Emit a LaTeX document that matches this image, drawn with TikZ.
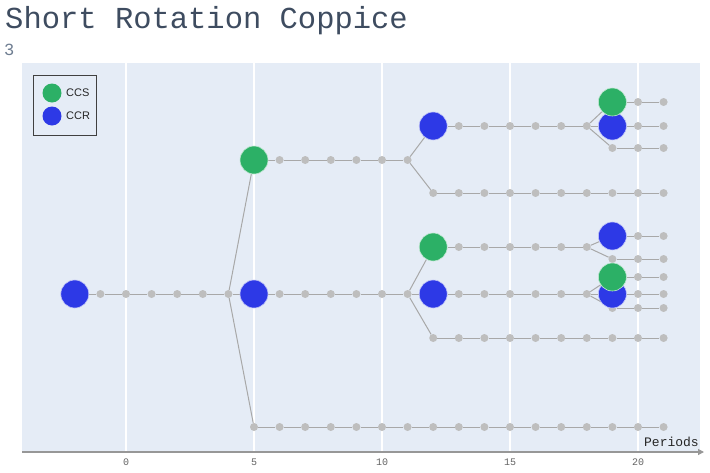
\documentclass[tikz,border=0pt]{standalone}
\usepackage{fontspec}
\setmainfont{Liberation Sans}
\setmonofont{Liberation Mono}
\usetikzlibrary{arrows.meta}
\definecolor{plotbg}{HTML}{E5ECF6}
\definecolor{ccsgreen}{RGB}{44,176,102}
\definecolor{ccrblue}{RGB}{45,57,230}
\definecolor{dotgrey}{RGB}{190,190,190}
\definecolor{linegrey}{RGB}{168,168,168}
\definecolor{titlecol}{RGB}{62,76,96}
\definecolor{subcol}{RGB}{110,125,145}
\definecolor{tickcol}{RGB}{100,100,100}
\pgfdeclarelayer{back}
\pgfdeclarelayer{edges}
\pgfdeclarelayer{top}
\pgfsetlayers{back,edges,main,top}
\tikzset{
  dotnode/.style={circle, fill=dotgrey, inner sep=0pt, minimum size=8pt},
  ccsnode/.style={circle, fill=ccsgreen, draw=white!70!ccsgreen, line width=0.6pt, inner sep=0pt, minimum size=28pt},
  ccrnode/.style={circle, fill=ccrblue, draw=white!70!ccrblue, line width=0.6pt, inner sep=0pt, minimum size=28pt},
  edge/.style={draw=linegrey, line width=1pt},
  grid/.style={draw=white, line width=1.1pt},
  ticklab/.style={font=\ttfamily\fontsize{10}{12}\selectfont, text=tickcol, inner sep=0pt},
  legmark/.style={circle, inner sep=0pt, minimum size=19pt},
  leglab/.style={font=\fontsize{11}{13}\selectfont, text=black!85, anchor=west, inner sep=0pt}
}
\newcommand\mkrow[6]{%
  \pgfmathtruncatemacro\rowlen{#4-#3}%
  \begin{pgfonlayer}{#6}\node[#5] (#10) at ({126+25.6*(#3)},#2) {};\end{pgfonlayer}%
  \foreach \k in {1,...,\rowlen}{\node[dotnode] (#1\k) at ({126+25.6*(#3+\k)},#2) {};}%
  \begin{pgfonlayer}{edges}%
  \foreach \k [remember=\k as \j (initially 0)] in {1,...,\rowlen}{\draw[edge] (#1\j) -- (#1\k);}%
  \end{pgfonlayer}%
}
\begin{document}
\begin{tikzpicture}[x=1pt,y=-1pt]
\useasboundingbox (0,0) rectangle (710,472);
% plot area
\begin{pgfonlayer}{back}
\fill[white] (0,0) rectangle (710,472);
\fill[plotbg] (22,63) rectangle (700,452);
\foreach \t in {0,5,10,15,20}{\draw[grid] ({126+25.6*\t},63) -- ({126+25.6*\t},452);}
\end{pgfonlayer}
\coordinate (axL) at (22,452);
\coordinate (axR) at (704,452);
\draw[draw=linegrey!90!black, line width=1.2pt, -{Triangle[length=6pt,width=6pt]}] (axL) -- (axR);
% title
\node[anchor=base west, inner sep=0pt, font=\ttfamily\fontsize{30.5}{34}\selectfont, text=titlecol] (title) at (5,28) {Short Rotation Coppice};
\node[anchor=base west, inner sep=0pt, font=\ttfamily\fontsize{17}{20}\selectfont, text=subcol] (subtitle) at (4,55) {3};
% tick labels
\foreach \t in {0,5,10,15,20}{\node[ticklab] (tick\t) at ({126+25.6*\t},462) {\t};}
\node[anchor=base east, inner sep=0pt, font=\ttfamily\fontsize{13}{15}\selectfont, text=black!85] (periods) at (699,446) {Periods};
% legend
\node[draw=black!75, line width=0.8pt, fill=plotbg, minimum width=63pt, minimum height=60pt, inner sep=0pt] (legend) at (64.5,105) {};
\node[legmark, fill=ccsgreen] (legccs) at (52,93) {};
\node[legmark, fill=ccrblue] (legccr) at (52,116) {};
\node[leglab] (legccstext) at (66,93) {CCS};
\node[leglab] (legccrtext) at (66,116) {CCR};
% tree rows: blue rows first, then green (drawn on top), then grey
\mkrow{A}{294}{-2}{4}{ccrnode}{top}
\mkrow{C}{294}{5}{11}{ccrnode}{top}
\mkrow{E}{126}{12}{18}{ccrnode}{top}
\mkrow{H}{126}{19}{21}{ccrnode}{top}
\mkrow{K}{294}{12}{18}{ccrnode}{top}
\mkrow{M}{236}{19}{21}{ccrnode}{top}
\mkrow{P}{294}{19}{21}{ccrnode}{top}
\mkrow{B}{160}{5}{11}{ccsnode}{top}
\mkrow{G}{102}{19}{21}{ccsnode}{top}
\mkrow{J}{247}{12}{18}{ccsnode}{top}
\mkrow{O}{277}{19}{21}{ccsnode}{top}
\mkrow{D}{427}{5}{21}{dotnode}{main}
\mkrow{F}{193}{12}{21}{dotnode}{main}
\mkrow{I}{148}{19}{21}{dotnode}{main}
\mkrow{L}{338}{12}{21}{dotnode}{main}
\mkrow{N}{259}{19}{21}{dotnode}{main}
\mkrow{Q}{308}{19}{21}{dotnode}{main}
% branch connectors
\begin{pgfonlayer}{edges}
\foreach \a/\b in {A6/B0,A6/C0,A6/D0,B6/E0,B6/F0,E6/G0,E6/H0,E6/I0,C6/J0,C6/K0,C6/L0,J6/M0,J6/N0,K6/O0,K6/P0,K6/Q0}{\draw[edge] (\a) -- (\b);}
\end{pgfonlayer}
\end{tikzpicture}
\end{document}
